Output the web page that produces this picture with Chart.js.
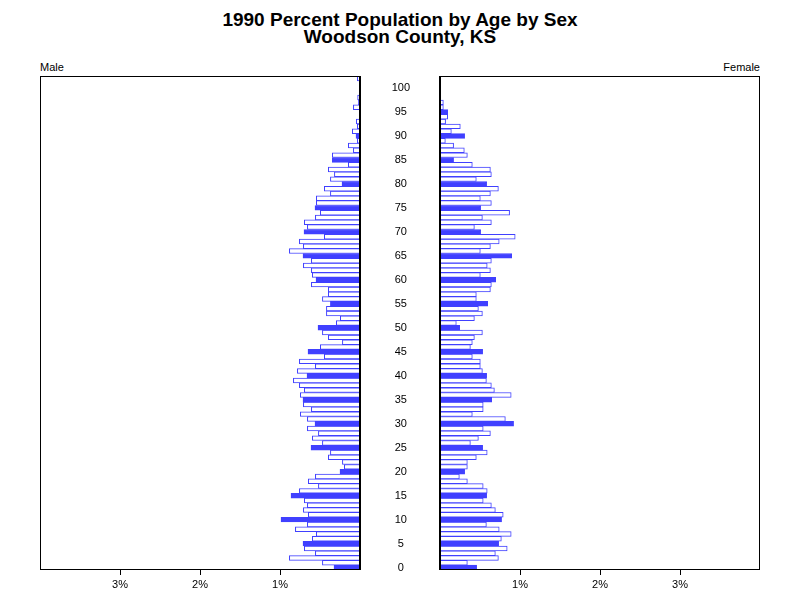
<!DOCTYPE html>
<html>
<head>
<meta charset="utf-8">
<script src="https://cdn.jsdelivr.net/npm/chart.js@4/dist/chart.umd.min.js"></script>
<style>
  body { margin: 0; background: #fff; }
  #wrap { position: relative; width: 800px; height: 600px; font-family: "Liberation Sans", Arial, sans-serif; }
  canvas { position: absolute; left: 0; top: 0; }
  .title { position: absolute; left: 0; width: 800px; text-align: center; font-weight: bold; font-size: 19px; line-height: 18px; }
  .side { position: absolute; top: 61px; font-size: 11px; }
</style>
</head>
<body>
<div id="wrap">
  <div class="title" style="top:11px">1990 Percent Population by Age by Sex</div>
  <div class="title" style="top:28px">Woodson County, KS</div>
  <div class="side" style="left:40px">Male</div>
  <div class="side" style="right:40px">Female</div>
  <canvas id="male" width="800" height="600"></canvas>
  <canvas id="female" width="800" height="600"></canvas>
</div>
<script>
// ages 0..102
const ages = Array.from({length: 103}, (_, i) => String(i));

// percent of total population, male, by single year of age
const maleValues = [
  0.325, 0.47, 0.883, 0.558, 0.696, 0.7125, 0.596, 0.546, 0.808, 0.658,
  0.9875, 0.646, 0.708, 0.658, 0.696, 0.8625, 0.758, 0.52, 0.646, 0.558,
  0.25, 0.196, 0.22, 0.396, 0.37, 0.6125, 0.47, 0.596, 0.52, 0.658,
  0.5625, 0.658, 0.746, 0.608, 0.708, 0.7125, 0.746, 0.696, 0.758, 0.833,
  0.6625, 0.783, 0.558, 0.758, 0.446, 0.65, 0.496, 0.22, 0.396, 0.47,
  0.525, 0.296, 0.246, 0.42, 0.42, 0.37, 0.47, 0.396, 0.396, 0.608,
  0.55, 0.596, 0.608, 0.708, 0.608, 0.7125, 0.883, 0.708, 0.758, 0.446,
  0.7, 0.658, 0.696, 0.558, 0.496, 0.5625, 0.546, 0.546, 0.37, 0.446,
  0.225, 0.37, 0.32, 0.396, 0.146, 0.346, 0.346, 0.083, 0.146, 0.033,
  0.05, 0.096, 0.033, 0.046, 0, 0, 0.083, 0.02, 0.03, 0,
  0, 0, 0.033
];

const femaleValues = [
  0.458, 0.342, 0.73, 0.692, 0.84, 0.733, 0.767, 0.89, 0.74, 0.58,
  0.77, 0.79, 0.692, 0.642, 0.54, 0.583, 0.59, 0.54, 0.342, 0.242,
  0.308, 0.342, 0.342, 0.454, 0.59, 0.533, 0.38, 0.48, 0.63, 0.54,
  0.92, 0.817, 0.404, 0.54, 0.54, 0.646, 0.89, 0.68, 0.642, 0.58,
  0.583, 0.53, 0.504, 0.504, 0.404, 0.533, 0.38, 0.404, 0.43, 0.53,
  0.246, 0.204, 0.43, 0.53, 0.48, 0.596, 0.454, 0.454, 0.63, 0.642,
  0.696, 0.504, 0.63, 0.59, 0.642, 0.896, 0.504, 0.63, 0.74, 0.94,
  0.508, 0.43, 0.642, 0.53, 0.87, 0.508, 0.642, 0.504, 0.63, 0.73,
  0.583, 0.454, 0.642, 0.63, 0.404, 0.17, 0.342, 0.304, 0.17, 0.067,
  0.308, 0.142, 0.254, 0.07, 0.096, 0.096, 0.042, 0.042, 0, 0,
  0, 0, 0
];

const pctTicks = [1, 2, 3];

const BLUE = '#4040ff';
const fills = ages.map(a => (+a % 5 === 0 ? BLUE : '#ffffff'));

// box round the plot area plus the black zero line
const framePlugin = {
  id: 'frame',
  afterDatasetsDraw(chart) {
    const { ctx, chartArea: a } = chart;
    ctx.save();
    ctx.strokeStyle = '#000';
    ctx.lineWidth = 1;
    ctx.strokeRect(a.left + 0.5, a.top + 0.5, a.right - a.left - 1, a.bottom - a.top - 1);
    ctx.lineWidth = 2;
    const x0 = chart.scales.x.getPixelForValue(0);
    ctx.beginPath();
    ctx.moveTo(x0, a.top);
    ctx.lineTo(x0, a.bottom);
    ctx.stroke();
    ctx.restore();
  }
};

const tickFont = { family: '"Liberation Sans", Arial, sans-serif', size: 11 };

const makeChart = (id, values, isMale) => {
  new Chart(document.getElementById(id), {
    type: 'bar',
    data: {
      labels: ages,
      datasets: [{
        data: values,
        backgroundColor: fills,
        borderColor: BLUE,
        borderWidth: 1,
        barPercentage: 1,
        categoryPercentage: 1
      }]
    },
    plugins: [framePlugin],
    options: {
      indexAxis: 'y',
      responsive: false,
      animation: false,
      devicePixelRatio: 1,
      layout: {
        padding: isMale
          ? { left: 40, right: 440, top: 76, bottom: 0 }
          : { left: 360, right: 40, top: 76, bottom: 0 }
      },
      plugins: { legend: { display: false }, tooltip: { enabled: false } },
      scales: {
        x: {
          min: 0,
          max: 4,
          reverse: isMale,
          afterBuildTicks: s => { s.ticks = pctTicks.map(v => ({ value: v })); },
          afterFit: s => { s.height = 30; s.paddingLeft = 0; s.paddingRight = 0; },
          border: { display: false },
          grid: { drawOnChartArea: false, drawTicks: true, tickLength: 5, color: '#000' },
          ticks: { color: '#000', font: tickFont, padding: 3, maxRotation: 0, callback: v => v + '%' }
        },
        y: {
          reverse: true,
          display: !isMale,
          afterFit: s => {
            if (!isMale) s.width = 80;
            s.paddingTop = 0;
            s.paddingBottom = 0;
          },
          border: { display: false },
          grid: { display: false, drawTicks: false },
          ticks: {
            color: '#000',
            font: tickFont,
            autoSkip: false,
            crossAlign: 'center',
            padding: 30,
            callback: (v, i) => (i % 5 === 0 && i <= 100 ? String(i) : '')
          }
        }
      }
    }
  });
};

makeChart('male', maleValues, true);
makeChart('female', femaleValues, false);
</script>
</body>
</html>
